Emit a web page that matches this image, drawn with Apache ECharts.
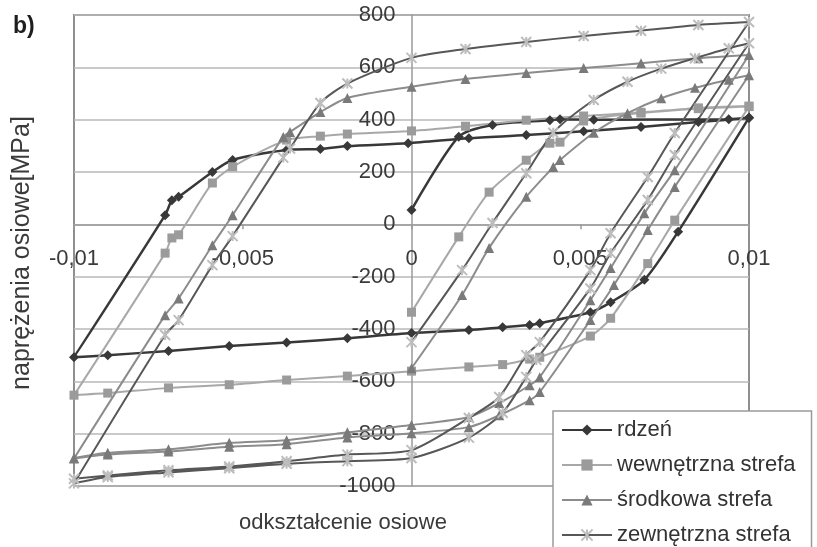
<!DOCTYPE html>
<html>
<head>
<meta charset="utf-8">
<script src="https://cdn.jsdelivr.net/npm/echarts@6/dist/echarts.min.js"></script>
<style>
  html, body { margin: 0; padding: 0; background: #ffffff; }
  #chart { width: 817px; height: 547px; }
</style>
</head>
<body>
<div id="chart"></div>
<script>
// Cyclic axial stress-strain loops for four zones of the cross-section.
const FONT = '"Liberation Sans", Arial, sans-serif';

const seriesNames = ['rdzeń', 'wewnętrzna strefa', 'środkowa strefa', 'zewnętrzna strefa'];

// rdzeń: first loading, unloading to -0.01, reloading to 0.01
const rdzenStrain = [
  0, 0.0014, 0.0024, 0.0041, 0.0044, 0.0054, 0.0094, 0.01,
  0.0079, 0.0069, 0.0059, 0.0053, 0.0038, 0.0035, 0.0027, 0.0017, 0, -0.0019, -0.0037, -0.0054, -0.0072, -0.009, -0.01,
  -0.0073, -0.0071, -0.0069, -0.0059, -0.0053, -0.0037, -0.0027, -0.0019, -0.0001, 0.0017, 0.0034, 0.0051, 0.0068, 0.0085, 0.01
];
const rdzenStress = [
  55, 335, 380, 398, 402, 400, 402, 408,
  -28, -212, -298, -336, -378, -385, -393, -404, -415, -435, -452, -465, -484, -500, -508,
  35, 92, 105, 200, 246, 284, 288, 299, 310, 329, 341, 356, 372, 391, 406
];

// wewnętrzna strefa
const wewnStrain = [
  0, 0.0014, 0.0023, 0.0034, 0.0041, 0.0044, 0.0051, 0.0068, 0.0085, 0.01,
  0.0078, 0.007, 0.0059, 0.0053, 0.0038, 0.0035, 0.0027, 0.0017, 0, -0.0019, -0.0037, -0.0054, -0.0072, -0.009, -0.01,
  -0.0073, -0.0071, -0.0069, -0.0059, -0.0053, -0.0037, -0.0027, -0.0019, 0, 0.0016, 0.0034, 0.0051, 0.0068, 0.0085, 0.01
];
const wewnStress = [
  -336, -48, 123, 245, 310, 314, 395, 425, 442, 450,
  16, -150, -359, -427, -508, -515, -536, -545, -561, -580, -595, -613, -625, -645, -653,
  -110, -52, -40, 158, 220, 322, 337, 345, 357, 375, 398, 414, 428, 445, 452
];

// środkowa strefa: loading, unloading, reloading, second unloading
const srodStrain = [
  0, 0.0015, 0.0023, 0.0034, 0.0042, 0.0044, 0.0054, 0.0064, 0.0074, 0.0084, 0.0094, 0.01,
  0.0078, 0.007, 0.006, 0.0053, 0.0038, 0.0035, 0.0026, 0.0017, 0, -0.0019, -0.0037, -0.0054, -0.0072, -0.009, -0.01,
  -0.0073, -0.0069, -0.0059, -0.0053, -0.0038, -0.0036, -0.0027, -0.0019, 0, 0.0016, 0.0034, 0.0051, 0.0068, 0.0085, 0.01,
  0.0078, 0.0069, 0.0059, 0.0053, 0.0038, 0.0035, 0.0026, 0.0017, 0, -0.0019, -0.0037, -0.0054, -0.0072, -0.009, -0.01
];
const srodStress = [
  -550, -270, -90, 105, 219, 246, 350, 425, 482, 522, 553, 570,
  143, -22, -232, -366, -641, -672, -730, -775, -798, -815, -840, -850, -868, -880, -895,
  -347, -283, -80, 35, 334, 353, 429, 483, 526, 555, 578, 597, 616, 635, 647,
  207, 42, -167, -290, -584, -615, -683, -736, -767, -795, -825, -835, -860, -873, -893
];

// zewnętrzna strefa: loading, unloading, reloading, second unloading
const zewnStrain = [
  0, 0.0015, 0.0024, 0.0034, 0.0042, 0.0054, 0.0064, 0.0074, 0.0084, 0.0094, 0.01,
  0.0078, 0.007, 0.0059, 0.0053, 0.0037, 0.0034, 0.0027, 0.0017, 0, -0.0019, -0.0037, -0.0054, -0.0072, -0.009, -0.01,
  -0.0073, -0.0069, -0.0059, -0.0053, -0.0038, -0.0036, -0.0027, -0.0019, 0, 0.0016, 0.0034, 0.0051, 0.0068, 0.0085, 0.01,
  0.0078, 0.007, 0.0059, 0.0053, 0.0038, 0.0034, 0.0026, 0.0017, 0, -0.0019, -0.0037, -0.0054, -0.0072, -0.009, -0.01
];
const zewnStress = [
  -450, -175, 5, 195, 350, 475, 545, 595, 635, 673, 692,
  265, 93, -110, -245, -518, -583, -720, -815, -893, -905, -915, -932, -948, -966, -990,
  -423, -366, -156, -45, 255, 290, 464, 538, 636, 670, 697, 720, 740, 762, 773,
  349, 181, -34, -175, -450, -500, -660, -740, -863, -880, -905, -925, -940, -960, -972
];

// axis ranges and tick spacing
const strainRange = [-0.01, 0.01];
const strainStep = 0.005;
const stressRange = [-1000, 800];
const stressStep = 200;

// plot area in pixels
const PLOT = { left: 74, top: 15, width: 675, height: 471 };
// the axes cross at strain 0 / stress 0 inside the plot area
const zeroX = PLOT.left + PLOT.width * (0 - strainRange[0]) / (strainRange[1] - strainRange[0]);
const zeroY = PLOT.top + PLOT.height * (stressRange[1] - 0) / (stressRange[1] - stressRange[0]);

function pairs(xs, ys) {
  return xs.map(function (x, i) { return [x, ys[i]]; });
}
function strainLabel(v) {
  const r = Math.round(v * 1000) / 1000;
  return String(r).replace('.', ',');
}
function stressLabel(v) {
  return String(Math.round(v));
}

const base = {
  type: 'line',
  smooth: 0.25,
  clip: false,
  animation: false,
  emphasis: { disabled: true }
};

const chart = echarts.init(document.getElementById('chart'), null, { renderer: 'canvas' });
chart.setOption({
  backgroundColor: '#ffffff',
  animation: false,
  textStyle: { fontFamily: FONT },
  grid: {
    left: PLOT.left, top: PLOT.top, width: PLOT.width, height: PLOT.height,
    containLabel: false, outerBoundsMode: 'none',
    show: true, borderColor: '#8f8f8f', borderWidth: 2, backgroundColor: 'transparent'
  },
  xAxis: {
    type: 'value',
    position: 'bottom',
    offset: -(PLOT.top + PLOT.height - zeroY),
    min: strainRange[0], max: strainRange[1], interval: strainStep,
    axisLine: { show: true, onZero: false, lineStyle: { color: '#9a9a9a', width: 1.5 } },
    axisTick: { show: true, length: 5, lineStyle: { color: '#9a9a9a', width: 1.5 } },
    axisLabel: { margin: 24, fontSize: 22, fontFamily: FONT, color: '#3a3a3a', formatter: strainLabel },
    splitLine: { show: false }
  },
  yAxis: {
    type: 'value',
    position: 'left',
    offset: -(zeroX - PLOT.left),
    min: stressRange[0], max: stressRange[1], interval: stressStep,
    axisLine: { show: true, onZero: false, lineStyle: { color: '#9a9a9a', width: 1.5 } },
    axisTick: { show: false },
    axisLabel: { margin: 16, fontSize: 22, fontFamily: FONT, color: '#3a3a3a', formatter: stressLabel },
    splitLine: { show: true, lineStyle: { color: '#b8b8b8', width: 1.5 } }
  },
  legend: {
    type: 'plain',
    orient: 'vertical',
    left: 553, top: 411,
    width: 262, height: 200,
    padding: [8, 16, 10, 8],
    itemWidth: 50, itemHeight: 14, itemGap: 13,
    backgroundColor: '#ffffff',
    borderColor: '#9a9a9a', borderWidth: 1.5,
    textStyle: { fontFamily: FONT, fontSize: 22, color: '#333333', lineHeight: 22 },
    data: seriesNames,
    z: 10
  },
  graphic: [
    {
      type: 'text', left: 13, top: 15,
      style: { text: 'b)', font: 'bold 23px ' + FONT, fill: '#1e1e1e' }
    },
    {
      type: 'text', x: 343, y: 523,
      style: { text: 'odkształcenie osiowe', font: '22px ' + FONT, fill: '#3a3a3a', align: 'center', verticalAlign: 'middle' }
    },
    {
      type: 'text', x: 22, y: 253, rotation: Math.PI / 2,
      style: { text: 'naprężenia osiowe[MPa]', font: '25px ' + FONT, fill: '#3a3a3a', align: 'center', verticalAlign: 'middle' }
    }
  ],
  series: [
    Object.assign({}, base, {
      name: seriesNames[0],
      data: pairs(rdzenStrain, rdzenStress),
      symbol: 'diamond', symbolSize: 10,
      lineStyle: { color: '#383838', width: 2.5 },
      itemStyle: { color: '#383838', borderWidth: 0 }
    }),
    Object.assign({}, base, {
      name: seriesNames[1],
      data: pairs(wewnStrain, wewnStress),
      symbol: 'rect', symbolSize: 9,
      lineStyle: { color: '#a8a8a8', width: 2 },
      itemStyle: { color: '#9b9b9b', borderWidth: 0 }
    }),
    Object.assign({}, base, {
      name: seriesNames[2],
      data: pairs(srodStrain, srodStress),
      symbol: 'triangle', symbolSize: 10,
      lineStyle: { color: '#8c8c8c', width: 2 },
      itemStyle: { color: '#7a7a7a', borderWidth: 0 }
    }),
    Object.assign({}, base, {
      name: seriesNames[3],
      data: pairs(zewnStrain, zewnStress),
      symbol: 'path://M0,0L10,10M10,0L0,10M5,0L5,10', symbolSize: 10,
      lineStyle: { color: '#575757', width: 2 },
      itemStyle: { color: '#bdbdbd', borderColor: '#bdbdbd', borderWidth: 2 }
    })
  ]
});
</script>
</body>
</html>
